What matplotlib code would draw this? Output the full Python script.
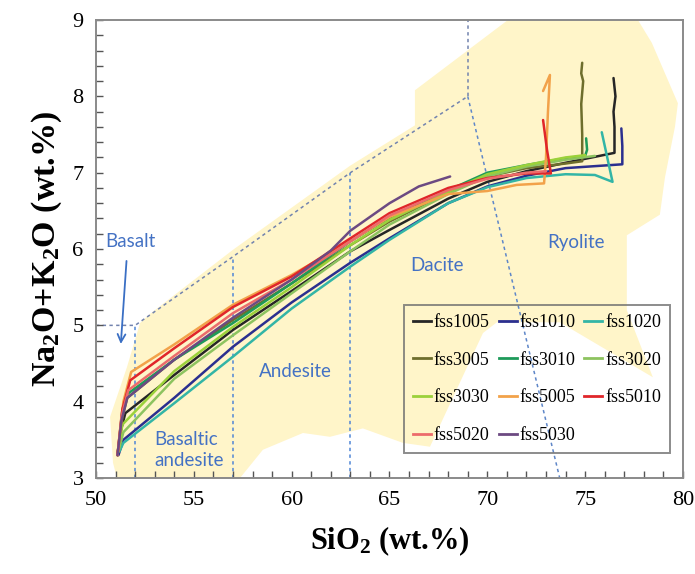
import matplotlib
matplotlib.use("Agg")
import matplotlib.pyplot as plt
from matplotlib.lines import Line2D

plt.rcParams["font.family"] = ["Liberation Serif", "DejaVu Serif"]
plt.rcParams["mathtext.fontset"] = "custom"
plt.rcParams["mathtext.rm"] = "Liberation Serif:bold"
plt.rcParams["mathtext.it"] = "Liberation Serif:bold:italic"
plt.rcParams["mathtext.bf"] = "Liberation Serif:bold"

# ---- melt evolution paths: SiO2 vs total alkali (wt.%) ----
fss1005_x = [51.1, 51.25, 51.5, 54.0, 57.0, 60.0, 63.0, 65.0, 68.0, 70.0, 72.0, 74.0, 76.5, 76.5, 76.45, 76.55, 76.45]
fss1005_y = [3.30, 3.60, 3.85, 4.35, 4.94, 5.45, 5.97, 6.25, 6.66, 6.88, 7.02, 7.13, 7.26, 7.60, 7.80, 8.00, 8.24]

fss1010_x = [51.15, 51.4, 54.0, 57.0, 60.0, 63.0, 65.0, 68.0, 70.0, 72.0, 74.0, 76.9, 76.9, 76.85]
fss1010_y = [3.30, 3.50, 4.05, 4.72, 5.30, 5.82, 6.14, 6.60, 6.82, 6.96, 7.06, 7.11, 7.35, 7.58]

fss1020_x = [51.2, 51.4, 54.0, 57.0, 60.0, 63.0, 65.0, 68.0, 70.0, 72.0, 74.0, 75.5, 76.4, 75.85]
fss1020_y = [3.35, 3.46, 3.98, 4.59, 5.22, 5.77, 6.12, 6.60, 6.81, 6.93, 6.98, 6.97, 6.88, 7.53]

fss3005_x = [51.1, 51.35, 51.6, 54.0, 57.0, 60.0, 63.0, 65.0, 68.0, 70.0, 72.0, 74.0, 74.85, 74.85, 74.8, 74.9, 74.8, 74.85]
fss3005_y = [3.30, 3.80, 4.05, 4.55, 5.07, 5.55, 6.05, 6.36, 6.74, 6.95, 7.06, 7.12, 7.15, 7.50, 7.90, 8.20, 8.30, 8.44]

fss3010_x = [51.1, 51.35, 51.6, 54.0, 57.0, 60.0, 63.0, 65.0, 68.0, 70.0, 72.0, 74.0, 75.0, 75.1, 75.05]
fss3010_y = [3.30, 3.90, 4.10, 4.55, 5.03, 5.55, 6.10, 6.41, 6.77, 7.00, 7.10, 7.19, 7.22, 7.30, 7.45]

fss3020_x = [51.15, 51.4, 54.0, 57.0, 60.0, 63.0, 65.0, 68.0, 70.0, 72.0, 74.0, 75.5]
fss3020_y = [3.35, 3.60, 4.30, 4.87, 5.42, 5.97, 6.32, 6.72, 6.95, 7.08, 7.17, 7.22]

fss3030_x = [51.1, 51.35, 54.0, 57.0, 60.0, 63.0, 65.0, 68.0, 70.0, 72.0, 74.0, 75.0]
fss3030_y = [3.30, 3.70, 4.40, 4.98, 5.50, 6.05, 6.38, 6.75, 6.98, 7.10, 7.20, 7.23]

fss5005_x = [51.1, 51.4, 51.8, 54.0, 57.0, 60.0, 63.0, 65.0, 68.0, 70.0, 71.5, 72.9, 73.0, 73.1, 73.2, 72.85]
fss5005_y = [3.30, 4.00, 4.39, 4.75, 5.27, 5.66, 6.10, 6.42, 6.72, 6.76, 6.84, 6.86, 7.20, 7.80, 8.28, 8.07]

fss5010_x = [51.1, 51.35, 51.75, 54.0, 57.0, 60.0, 63.0, 65.0, 68.0, 70.0, 72.0, 73.25, 73.05, 72.85]
fss5010_y = [3.30, 3.90, 4.28, 4.70, 5.24, 5.64, 6.14, 6.47, 6.80, 6.93, 6.99, 6.99, 7.30, 7.69]

fss5020_x = [51.1, 51.3, 51.65, 54.0, 57.0, 60.0, 63.0, 65.0, 68.0, 70.0, 72.0, 73.0]
fss5020_y = [3.30, 3.80, 4.15, 4.60, 5.16, 5.60, 6.10, 6.44, 6.77, 6.92, 7.00, 7.02]

fss5030_x = [51.1, 51.3, 51.6, 54.0, 57.0, 60.0, 62.0, 63.0, 65.0, 66.5, 68.1]
fss5030_y = [3.30, 3.75, 4.05, 4.55, 5.10, 5.60, 5.98, 6.24, 6.60, 6.82, 6.95]

series_names = ["fss1005", "fss1010", "fss1020", "fss3005", "fss3010", "fss3020",
                "fss3030", "fss5005", "fss5010", "fss5020", "fss5030"]
series_x = [fss1005_x, fss1010_x, fss1020_x, fss3005_x, fss3010_x, fss3020_x,
            fss3030_x, fss5005_x, fss5010_x, fss5020_x, fss5030_x]
series_y = [fss1005_y, fss1010_y, fss1020_y, fss3005_y, fss3010_y, fss3020_y,
            fss3030_y, fss5005_y, fss5010_y, fss5020_y, fss5030_y]
series_colors = ["#262626", "#2B2F8F", "#33B5A6", "#6E6E2C", "#1E9A5A", "#8DC35F",
                 "#9BD13A", "#F2A24A", "#E0262A", "#EC6B6B", "#6C4A82"]

# ---- natural volcanic rock field (shaded background) ----
field_x = [51.07, 50.87, 50.72, 51.58, 52.25, 52.76, 57.0, 62.98, 66.3, 66.3, 71.05, 77.7,
           78.41, 79.74, 79.59, 79.08, 78.82, 77.13, 77.13, 78.46, 73.71, 70.49, 69.78,
           67.07, 65.69, 63.64, 61.96, 60.58, 58.53, 57.36]
field_y = [3.0, 3.2, 3.8, 4.45, 5.03, 5.15, 5.99, 7.09, 7.62, 8.08, 9.0, 9.0,
           8.7, 7.91, 7.6, 6.94, 6.45, 6.18, 5.2, 4.32, 5.04, 5.04, 4.9,
           3.41, 3.46, 3.65, 3.54, 3.59, 3.37, 3.0]

# ---- TAS classification boundaries ----
tas_upper_x = [50.0, 52.0, 57.0, 63.0, 69.0]
tas_upper_y = [5.0, 5.0, 5.9, 7.0, 8.0]
tas_vertical_x = [52.0, 57.0, 63.0]
tas_vertical_top = [5.0, 5.9, 7.0]
tas_69_x = [69.0, 69.0]
tas_69_y = [8.0, 9.0]
tas_rhyolite_x = [69.0, 73.7]
tas_rhyolite_y = [8.0, 3.0]

field_labels = ["Basalt", "Basaltic\nandesite", "Andesite", "Dacite", "Ryolite"]
field_label_x = [51.74, 53.0, 60.17, 67.45, 74.53]
field_label_y = [6.10, 3.37, 4.39, 5.78, 6.09]
field_label_ha = ["center", "left", "center", "center", "center"]

fig = plt.figure(figsize=(6.95, 5.74), dpi=100)
ax = fig.add_axes([0.1381, 0.1672, 0.8446, 0.7979])

ax.fill(field_x, field_y, color="#FFF5C9", lw=0, zorder=0)

dash = (0, (2.2, 2.2))
ax.plot(tas_upper_x, tas_upper_y, color="#7283AE", lw=1.1, ls=dash, zorder=1)
for xv, top in zip(tas_vertical_x, tas_vertical_top):
    ax.plot([xv, xv], [3.0, top], color="#4F86D6", lw=1.1, ls=dash, zorder=1)
ax.plot(tas_69_x, tas_69_y, color="#7283AE", lw=1.1, ls=dash, zorder=1)
ax.plot(tas_rhyolite_x, tas_rhyolite_y, color="#5E86C8", lw=1.1, ls=dash, zorder=1)

for xs, ys, c in zip(series_x, series_y, series_colors):
    ax.plot(xs, ys, color=c, lw=1.8, zorder=3, solid_capstyle="round", solid_joinstyle="round")

for txt, tx, ty, ha in zip(field_labels, field_label_x, field_label_y, field_label_ha):
    ax.text(tx, ty, txt, color="#4472C4", fontsize=13.5, family=["Lato", "DejaVu Sans"],
            ha=ha, va="center", linespacing=1.25, zorder=4)

ax.annotate("", xy=(51.26, 4.72), xytext=(51.57, 5.88),
            arrowprops=dict(arrowstyle="->", color="#3A6FC4", lw=1.3,
                            mutation_scale=14), zorder=4)

ax.set_xlim(50, 80)
ax.set_ylim(3, 9)
ax.set_xticks([50, 55, 60, 65, 70, 75, 80])
ax.set_yticks([3, 4, 5, 6, 7, 8, 9])
ax.set_xticks(range(50, 81), minor=True)
ax.set_yticks([3 + 0.2 * i for i in range(31)], minor=True)
ax.tick_params(which="both", direction="in", length=5, width=1.0, color="#555555",
               top=False, right=False)
ax.tick_params(which="major", labelsize=16, pad=9)

for s in ax.spines.values():
    s.set_color("#8A8A8A")
    s.set_linewidth(1.4)

ax.set_xlabel(r"SiO$_{2}$ (wt.%)", fontsize=22, fontweight="bold", labelpad=11)
ax.set_ylabel(r"Na$_{2}$O+K$_{2}$O (wt.%)", fontsize=24.5, fontweight="bold", labelpad=6)

# legend laid out row by row: 1005 1010 1020 / 3005 3010 3020 / ...
order = [0, 3, 6, 9, 1, 4, 7, 10, 2, 5, 8]
handles = [Line2D([], [], color=series_colors[i], lw=2) for i in order]
labels = [series_names[i] for i in order]
leg = ax.legend(handles, labels, ncol=3, loc="upper right", bbox_to_anchor=(0.978, 0.378),
                fontsize=13, handlelength=1.0, handletextpad=0.15, columnspacing=0.5,
                labelspacing=1.15, borderpad=0.5, fancybox=False, frameon=True,
                borderaxespad=0.0)
leg.get_frame().set_facecolor("none")
leg.get_frame().set_edgecolor("#707070")
leg.get_frame().set_linewidth(1.4)
leg.set_zorder(5)

fig.savefig("out.png", dpi=100)
